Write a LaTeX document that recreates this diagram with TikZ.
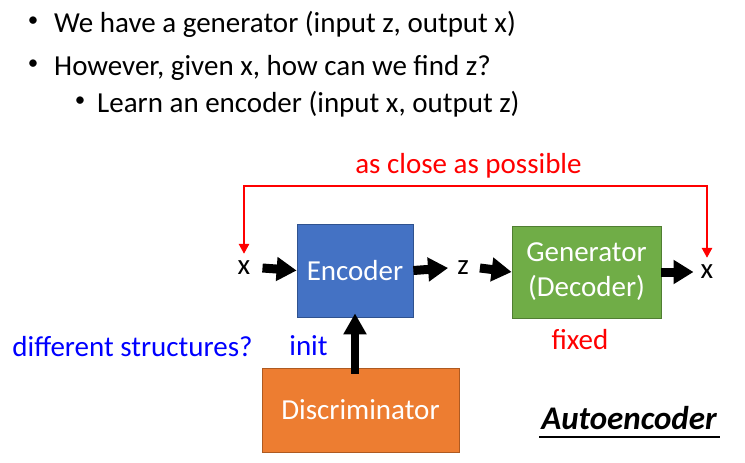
\documentclass[tikz,border=0pt]{standalone}
\usepackage{fontspec}
\setmainfont{Carlito}
\usetikzlibrary{arrows.meta}
\definecolor{encblue}{HTML}{4472C4}
\definecolor{encborder}{HTML}{2F528F}
\definecolor{gengreen}{HTML}{70AD47}
\definecolor{genborder}{HTML}{507E32}
\definecolor{disorange}{HTML}{ED7D31}
\definecolor{disborder}{HTML}{AE5A21}
\definecolor{pptred}{HTML}{FF0000}
\definecolor{pptblue}{HTML}{0000FF}
\tikzset{
  body/.style={font=\fontsize{29}{35}\selectfont, inner sep=0pt},
  bul/.style={font=\fontsize{21}{25}\selectfont, inner sep=0pt},
  box/.style={draw, line width=0.8pt, font=\fontsize{29}{35}\selectfont\color{white}, align=center, inner sep=0pt},
  var/.style={font=\fontsize{29}{35}\selectfont, inner sep=0pt},
  blk/.style={line width=9pt, -{Triangle[length=20pt,width=23pt]}},
  redarr/.style={pptred, line width=2.8pt, {Triangle[length=10pt,width=10pt]}-{Triangle[length=10pt,width=10pt]}},
}
\begin{document}
\begin{tikzpicture}[x=1pt,y=-1pt]
\path[use as bounding box] (0,0) rectangle (745,463);
% bullets
\node[bul] (b1) at (33,22) {•};
\node[body, anchor=base west] (t1) at (54,32) {We have a generator (input z, output x)};
\node[bul] (b2) at (33,65) {•};
\node[body, anchor=base west] (t2) at (54,75) {However, given x, how can we find z?};
\node[bul] (b3) at (80,102) {•};
\node[body, anchor=base west] (t3) at (97,112) {Learn an encoder (input x, output z)};
% red label
\node[body, text=pptred, anchor=base] (close) at (468.5,173) {as close as possible};
% main row
\node[var] (xin) at (244,268) {x};
\node[box, fill=encblue, draw=encborder, minimum width=116pt, minimum height=93pt] (enc) at (355,270.5) {Encoder};
\node[var] (z) at (463,268) {z};
\node[box, fill=gengreen, draw=genborder, minimum width=149pt, minimum height=92pt] (gen) at (586.5,272) {Generator\\(Decoder)};
\node[var] (xout) at (707,272) {x};
\coordinate (redtop) at (475,186);
\draw[redarr, shorten <=7pt, shorten >=7pt] (xin.north) |- (redtop) -| (xout.north);
\draw[blk] ([xshift=12pt]xin.east) -- (enc.west);
\draw[blk] (enc.east) -- ([xshift=-9pt]z.west);
\draw[blk] ([xshift=11pt]z.east) -- (gen.west);
\draw[blk] (gen.east) -- ([xshift=-7pt]xout.west);
% bottom
\node[box, fill=disorange, draw=disborder, minimum width=197pt, minimum height=84pt] (dis) at (360.5,410) {Discriminator};
\draw[blk, line width=8pt, -{Triangle[length=21pt,width=22pt]}] ([yshift=-6pt]dis.north -| 355,0) -- ([yshift=4pt]enc.south -| 355,0);
\node[body, text=pptblue, anchor=base] (diff) at (132.5,356) {different structures?};
\node[body, text=pptblue, anchor=base] (init) at (308.5,355) {init};
\node[body, text=pptred, anchor=base] (fixed) at (580,349) {fixed};
\node[font=\fontsize{33}{40}\selectfont\bfseries\itshape, inner sep=0pt, anchor=base] (ae) at (629,429) {Autoencoder};
\draw[line width=1.3pt] (ae.south west |- 0,437) ++(-2,0) coordinate (ul1) -- (ae.south east |- ul1) -- ++(3,0);
\end{tikzpicture}
\end{document}
